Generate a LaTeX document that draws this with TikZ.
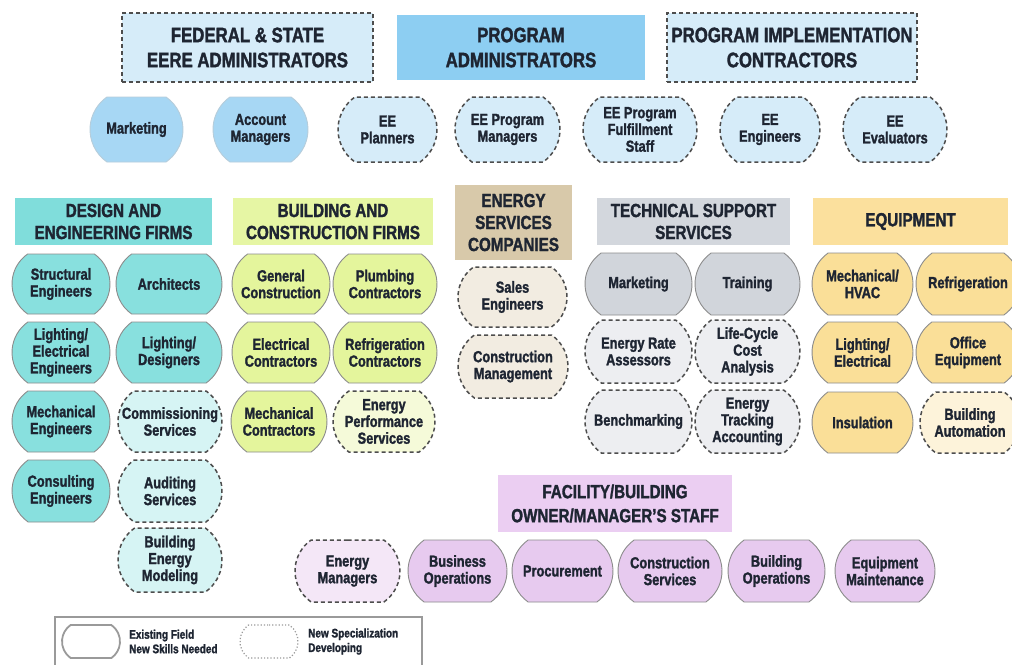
\documentclass[tikz,border=0pt]{standalone}
\usepackage{fontspec}
\setmainfont{Liberation Sans}[FakeStretch=0.8, FakeBold=1.6, UprightFont=* Bold, BoldFont=* Bold]
\usetikzlibrary{shapes.misc}
\definecolor{txt}{HTML}{1E2532}
\definecolor{bord}{HTML}{8C8C8C}
\definecolor{dashc}{HTML}{4D4D4D}
\definecolor{topL}{HTML}{D6ECF9}
\definecolor{topD}{HTML}{8DCEF2}
\definecolor{blueS}{HTML}{A7D7F4}
\definecolor{cyanH}{HTML}{80DDDB}
\definecolor{cyanS}{HTML}{88E0DE}
\definecolor{cyanL}{HTML}{D6F4F4}
\definecolor{ygH}{HTML}{E6F6A4}
\definecolor{ygS}{HTML}{E4F59C}
\definecolor{ygL}{HTML}{F5FAD9}
\definecolor{tanH}{HTML}{D8C9AA}
\definecolor{tanL}{HTML}{F2ECE1}
\definecolor{grH}{HTML}{D3D7DD}
\definecolor{grS}{HTML}{D1D5DB}
\definecolor{grL}{HTML}{EDEEF1}
\definecolor{orH}{HTML}{FBE09D}
\definecolor{orS}{HTML}{FADF98}
\definecolor{orL}{HTML}{FDF3DA}
\definecolor{puH}{HTML}{EBCEF2}
\definecolor{puS}{HTML}{E7CAEF}
\definecolor{puL}{HTML}{F4E7F7}
\definecolor{legb}{HTML}{9A9A9A}
\begin{document}
\begin{tikzpicture}[x=1pt,y=-1pt,
  every node/.style={inner sep=0pt, align=center, text=txt},
  sz/.style n args={2}{minimum width=#1pt, minimum height=#2pt},
  itemf/.style={font=\fontsize{16}{16.8}\selectfont},
  pill/.style={rounded rectangle, rounded rectangle arc length=110},
  oldf/.style={pill, itemf, draw=bord, line width=0.9pt},
  newf/.style={pill, itemf, draw=dashc, line width=1.5pt, dash pattern=on 4pt off 3pt},
  toph/.style={font=\fontsize{21}{25}\selectfont},
  midh/.style={font=\fontsize{19}{22}\selectfont},
  dashbox/.style={draw=dashc, line width=1.5pt, dash pattern=on 4pt off 3pt},
  legf/.style={font=\fontsize{12.5}{14.5}\selectfont, align=left, anchor=west},
]
\fill[white] (0,0) rectangle (1012,664);
\useasboundingbox (0,0) rectangle (1012,664);
\clip (0,0) rectangle (1012,664);

% top headers
\node[toph, dashbox, fill=topL, sz={251}{69}] (fed) at (247.5,47.5) {FEDERAL \& STATE\\EERE ADMINISTRATORS};
\node[toph, fill=topD, sz={248}{65}] (padm) at (521,47.5) {PROGRAM\\ADMINISTRATORS};
\node[toph, dashbox, fill=topL, sz={250}{69}] (pic) at (792,47.5) {PROGRAM IMPLEMENTATION\\CONTRACTORS};

% row 2
\node[oldf, draw=blueS!80!black!60, fill=blueS, sz={93}{65}] (mkt1) at (136.5,129.5) {Marketing};
\node[oldf, draw=blueS!80!black!60, fill=blueS, sz={95}{65}] (acct) at (260.5,129.5) {Account\\Managers};
\node[newf, fill=topL, sz={99}{65}] (eepl) at (387.5,129.5) {EE\\Planners};
\node[newf, fill=topL, sz={105}{65}] (eepm) at (507.5,129.5) {EE Program\\Managers};
\node[newf, fill=topL, sz={114}{65}] (eepf) at (640,129.5) {EE Program\\Fulfillment\\Staff};
\node[newf, fill=topL, sz={100}{65}] (eeen) at (770,129.5) {EE\\Engineers};
\node[newf, fill=topL, sz={104}{65}] (eeev) at (895,129.5) {EE\\Evaluators};

% row 3 headers
\node[midh, fill=cyanH, sz={197}{47}] (deh) at (113.5,221.5) {DESIGN AND\\ENGINEERING FIRMS};
\node[midh, fill=ygH, sz={200}{47}] (bch) at (333,221.5) {BUILDING AND\\CONSTRUCTION FIRMS};
\node[midh, fill=tanH, sz={117}{75}] (esh) at (513.5,222.5) {ENERGY\\SERVICES\\COMPANIES};
\node[midh, fill=grH, sz={193}{47}] (tsh) at (693.5,221.5) {TECHNICAL SUPPORT\\SERVICES};
\node[midh, fill=orH, sz={195}{47}] (eqh) at (910.5,221.5) {EQUIPMENT};

% design and engineering
\node[oldf, fill=cyanS, sz={98}{60}] (d11) at (61,284) {Structural\\Engineers};
\node[oldf, fill=cyanS, sz={106}{60}] (d12) at (169,284) {Architects};
\node[oldf, fill=cyanS, sz={98}{61}] (d21) at (61,352.5) {Lighting/\\Electrical\\Engineers};
\node[oldf, fill=cyanS, sz={106}{61}] (d22) at (169,352.5) {Lighting/\\Designers};
\node[oldf, fill=cyanS, sz={98}{61}] (d31) at (61,421.5) {Mechanical\\Engineers};
\node[newf, fill=cyanL, sz={104}{61}] (d32) at (170,421.5) {Commissioning\\Services};
\node[oldf, fill=cyanS, sz={98}{62}] (d41) at (61,491) {Consulting\\Engineers};
\node[newf, fill=cyanL, sz={104}{62}] (d42) at (170,491) {Auditing\\Services};
\node[newf, fill=cyanL, sz={104}{64}] (d52) at (170,560) {Building\\Energy\\Modeling};

% building and construction
\node[oldf, fill=ygS, sz={98}{60}] (b11) at (281,284) {General\\Construction};
\node[oldf, fill=ygS, sz={104}{60}] (b12) at (385,284) {Plumbing\\Contractors};
\node[oldf, fill=ygS, sz={98}{61}] (b21) at (281,352.5) {Electrical\\Contractors};
\node[oldf, fill=ygS, sz={104}{61}] (b22) at (385,352.5) {Refrigeration\\Contractors};
\node[oldf, fill=ygS, sz={96}{61}] (b31) at (279,421.5) {Mechanical\\Contractors};
\node[newf, fill=ygL, sz={102}{61}] (b32) at (384,421.5) {Energy\\Performance\\Services};

% energy services companies
\node[newf, fill=tanL, sz={109}{60}] (e1) at (512.5,297) {Sales\\Engineers};
\node[newf, fill=tanL, sz={110}{63}] (e2) at (513,366.5) {Construction\\Management};

% technical support
\node[oldf, fill=grS, sz={107}{62}] (t11) at (638.5,284) {Marketing};
\node[oldf, fill=grS, sz={105}{62}] (t12) at (747.5,284) {Training};
\node[newf, fill=grL, sz={107}{63}] (t21) at (638.5,351.5) {Energy Rate\\Assessors};
\node[newf, fill=grL, sz={105}{63}] (t22) at (747.5,351.5) {Life-Cycle\\Cost\\Analysis};
\node[newf, fill=grL, sz={107}{63}] (t31) at (638.5,421.5) {Benchmarking};
\node[newf, fill=grL, sz={105}{63}] (t32) at (747.5,421.5) {Energy\\Tracking\\Accounting};

% equipment
\node[oldf, fill=orS, sz={101}{62}] (q11) at (862.5,284) {Mechanical/\\HVAC};
\node[oldf, fill=orS, sz={104}{62}] (q12) at (968,284) {Refrigeration};
\node[oldf, fill=orS, sz={101}{61}] (q21) at (862.5,352.5) {Lighting/\\Electrical};
\node[oldf, fill=orS, sz={104}{61}] (q22) at (968,352.5) {Office\\Equipment};
\node[oldf, fill=orS, sz={101}{61}] (q31) at (862.5,422.5) {Insulation};
\node[newf, fill=orL, sz={100}{61}] (q32) at (970,422.5) {Building\\Automation};

% facility
\node[fill=puH, sz={234}{57}, font=\fontsize{19}{24}\selectfont] (fh) at (615,503.5) {FACILITY/BUILDING\\OWNER/MANAGER'S STAFF};
\node[newf, fill=puL, sz={105}{62}] (f1) at (347.5,571) {Energy\\Managers};
\node[oldf, fill=puS, sz={99}{62}] (f2) at (457.5,571) {Business\\Operations};
\node[oldf, fill=puS, sz={101}{62}] (f3) at (562.5,571) {Procurement};
\node[oldf, fill=puS, sz={104}{62}] (f4) at (670,571) {Construction\\Services};
\node[oldf, fill=puS, sz={97}{62}] (f5) at (776.5,571) {Building\\Operations};
\node[oldf, fill=puS, sz={100}{62}] (f6) at (885,571) {Equipment\\Maintenance};

% legend
\node[draw=legb, line width=1.2pt, fill=white, sz={367}{60}] (leg) at (238.5,647) {};
\node[pill, draw=legb, line width=1.8pt, sz={58}{33}] (lg1) at (91,641.5) {};
\node[legf] (lt1) at (129,641.5) {Existing Field\\New Skills Needed};
\node[pill, draw=legb, line width=1.2pt, dotted, sz={58}{33}] (lg2) at (269,641.5) {};
\node[legf] (lt2) at (308,641.5) {New Specialization\\Developing};
\end{tikzpicture}
\end{document}
